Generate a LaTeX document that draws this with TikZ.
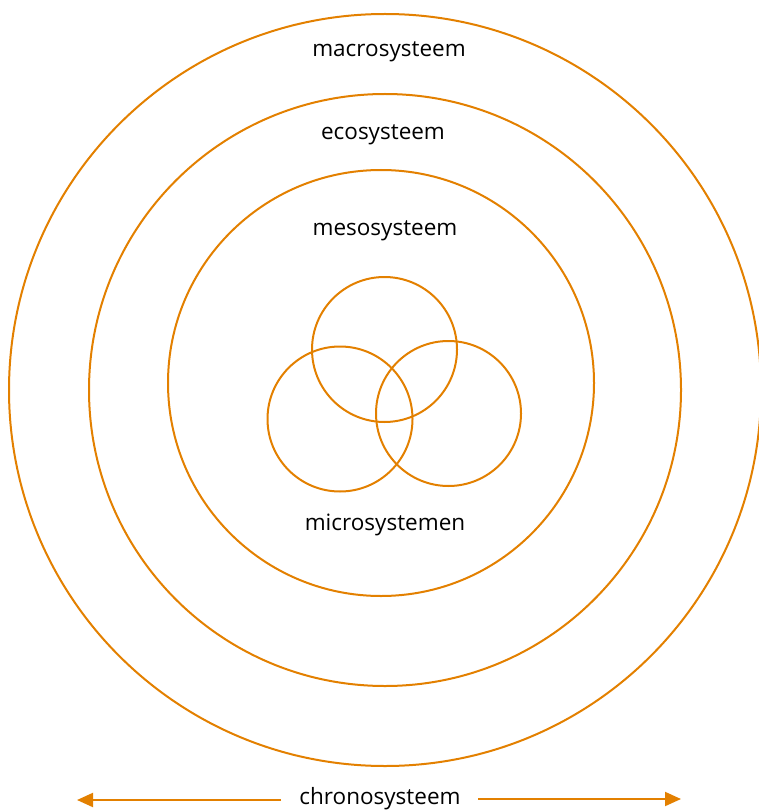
\documentclass[tikz,border=0pt]{standalone}
\usepackage{fontspec}
\setmainfont{Open Sans}
\usetikzlibrary{arrows.meta}
\definecolor{orng}{RGB}{227,128,0}
\begin{document}
\begin{tikzpicture}[x=1pt,y=-1pt,
  ring/.style={draw=orng,line width=2pt},
  lbl/.style={font=\fontsize{22.5}{26}\selectfont,text=black,inner sep=0pt},
  chrono/.style={draw=orng,line width=2pt,-{Triangle[length=16pt,width=14pt]}}]
\useasboundingbox (0,0) rectangle (759,810);
\begin{scope}
\clip (0,0) rectangle (759,810);
\draw[ring] (385,390) circle[radius=376];
\end{scope}
\draw[ring] (385,390) circle[radius=296];
\draw[ring] (381,383) circle[radius=213];
\draw[ring] (384.5,349.5) circle[radius=72.5];
\draw[ring] (340,419) circle[radius=72.5];
\draw[ring] (448.5,413.5) circle[radius=72.5];
\node[lbl] (macro) at (389,52) {macrosysteem};
\node[lbl] (eco) at (383,135) {ecosysteem};
\node[lbl] (meso) at (385,231) {mesosysteem};
\node[lbl] (micro) at (385,525) {microsystemen};
\node[lbl] (chrono) at (380,799) {chronosysteem};
\coordinate (lend) at (77,800);
\coordinate (rend) at (681,799);
\draw[chrono] (281,800) -- (lend);
\draw[chrono] (478,799) -- (rend);
\end{tikzpicture}
\end{document}
